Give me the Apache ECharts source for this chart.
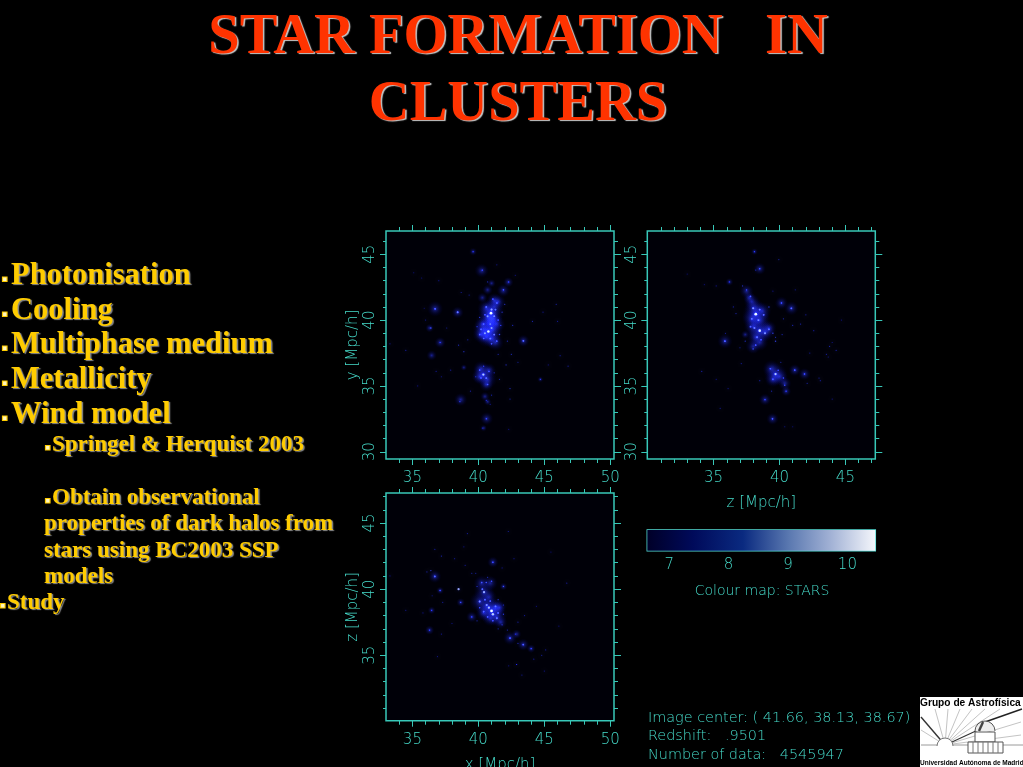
<!DOCTYPE html>
<html><head><meta charset="utf-8">
<style>html,body{margin:0;padding:0;background:#000}#c{width:1023px;height:767px}</style>
<script src="https://cdn.jsdelivr.net/npm/echarts@6/dist/echarts.min.js"></script>
</head><body><div id="c"></div>
<script>
// ---------- data: [horizontal, vertical, log10 mass] ----------
const xyDiffuse = [[40.96,40.53,9.3],[40.8,40.2,8.8],[41.2,41.0,8.6],[41.1,40.1,8.6],[40.6,40.9,8.4],[40.76,39.14,9.2],[40.4,39.3,8.8],[41.1,39.3,8.7],[40.6,38.7,8.6],[41.0,38.6,8.5],[41.3,38.3,8.3],[40.2,38.9,8.3],[41.4,39.7,8.3],[40.3,39.7,8.2],[41.5,41.4,8.1],[41.2,41.5,8.1],[40.9,39.8,8.6],[40.38,35.86,8.9],[40.7,35.5,8.5],[40.2,36.3,8.2],[40.8,36.2,8.0],[40.6,35.1,8.0],[40.1,35.7,8.1],[36.72,40.86,8.2],[38.43,40.58,7.8],[37.1,38.3,7.7],[36.46,37.32,7.6],[43.41,38.43,7.8],[38.66,33.96,7.9],[40.63,32.52,7.9],[40.25,43.76,8.0],[41.89,42.25,7.9],[42.27,42.88,7.6],[40.3,41.7,7.6],[40.7,42.3,7.6],[41.0,42.8,7.4],[36.3,39.4,7.4],[40.5,34.2,7.5],[40.7,33.8,7.3],[39.6,45.2,7.3],[40.4,31.8,7.2],[44.7,35.5,7.1],[38.9,36.4,7.2]];
const xyKnots = [[40.96,40.53,10.3],[40.76,39.14,10.0],[41.0,40.8,9.4],[40.7,40.3,9.2],[41.2,40.3,9.1],[41.3,40.8,9],[40.6,41,8.9],[41.4,41.3,8.9],[41.1,41.6,8.8],[40.5,40.4,8.8],[41.5,40.0,8.7],[40.9,39.7,9],[40.4,39.7,8.8],[40.2,39.3,8.9],[40.5,39.0,9.3],[41,39.4,9.3],[41.2,38.9,9.1],[40.9,38.6,9],[40.4,38.6,8.8],[40.1,38.9,8.7],[41.4,38.4,8.8],[41,38.2,8.8],[41.6,38.9,8.6],[41.7,39.6,8.4],[41.8,40.6,8.3],[42,41.2,8.3],[40.1,40.2,8.3],[39.9,39.5,8.2],[40.38,35.86,9.7],[40.6,35.6,9],[40.2,35.6,8.8],[40.1,36.2,8.7],[40.8,36.1,8.6],[40.7,35.1,8.6],[40.4,36.5,8.4],[41.2,36.0,8.2],[39.8,35.7,8.1],[41.6,35.5,7.9],[42.4,34.8,8.2],[41.0,34.3,7.9],[40.6,33.9,7.9],[40.9,33.6,7.7],[36.72,40.86,8.9],[36.4,39.4,8.6],[37.1,38.3,8.2],[38.43,40.6,9.1],[38.5,38.1,8.1],[38.9,37.6,8.2],[39.2,38.5,7.9],[43.41,38.43,9],[42.6,39.6,8],[42.2,38.4,8],[42.5,37.4,8.2],[43,36.8,7.9],[42.1,36.6,8.2],[41.5,37.4,8],[44.1,39.9,7.9],[44.9,40.6,7.6],[45.9,41.2,7.9],[46,39.9,7.6],[46.8,36.5,7.8],[46.2,37.3,7.6],[45.3,36.6,7.4],[44.7,35.5,7.7],[33.3,38.2,7.7],[34.5,37.7,7.7],[35.1,43.6,7.5],[35.7,43.2,7.5],[35.9,40.9,7.4],[37,43,7.5],[38.7,42.1,7.8],[39.3,41.9,7.7],[40.3,43.8,8.5],[40.7,42.9,8],[41.9,42.3,8.6],[42.3,42.9,8.3],[41.4,44.2,7.6],[42.8,43.4,7.5],[39.6,45.2,8],[40.6,32.5,8.5],[40.3,31.8,7.8],[42.3,31.7,7.4],[42.4,34.0,7.9],[38.6,33.8,8.3],[39.4,34.6,7.8],[37.9,36.2,7.7],[37.2,35.7,7.6],[36.8,36.1,7.6],[35.4,35,7.4],[36,40.0,7.6],[37.6,39.4,7.7]];
const zyDiffuse = [[38.2,40.45,9.4],[38.5,39.2,9.2],[38.1,40.9,8.6],[38.5,40.0,8.8],[37.9,40.1,8.6],[38.7,40.7,8.4],[38.0,39.5,8.5],[38.9,39.1,8.6],[38.2,38.7,8.5],[38.5,38.3,8.3],[38.0,38.0,8.1],[39.2,39.4,8.1],[37.9,41.4,8.2],[37.5,42.2,8.0],[37.7,41.7,7.8],[39.7,35.9,9.0],[39.4,36.3,8.4],[40,35.7,8.3],[39.5,35.5,8.2],[40.4,35.2,7.9],[40.5,34.6,7.6],[35.86,38.4,8.1],[40.9,40.9,8.0],[40.15,41.3,7.9],[41.9,35.9,7.8],[41.16,36.2,7.8],[38.9,33.96,7.8],[39.47,32.5,7.8],[38.5,43.9,7.8],[38.1,45.2,7.2],[37.4,38.9,7.4],[36.2,42.9,7.3]];
const zyKnots = [[38.2,40.45,10.3],[38.5,39.2,10.1],[38.0,40.9,9.3],[38.5,40.8,9.1],[38.8,40.4,9.1],[37.9,40.1,9],[38.4,40.0,9.2],[37.8,39.5,8.9],[38.1,39.4,9.1],[38.9,39.0,9.3],[39.2,39.3,9],[38.3,38.7,9],[38.6,38.5,8.8],[38.2,38.1,8.8],[38.0,37.8,8.5],[37.8,41.8,8.8],[37.5,42.3,8.5],[37.2,42.6,8.2],[39.2,41,8.4],[39.5,39,8.5],[39.7,38.7,8.2],[40.15,41.3,8.6],[40.9,40.9,8.9],[40.3,40.1,8],[41,39.6,7.9],[40.2,38.9,8.1],[39.7,38.4,8.5],[41.6,39.7,8],[42,40.4,7.8],[42.6,39.2,7.8],[39.7,35.9,9.7],[39.3,36.3,8.7],[39.9,36.2,8.6],[39.5,35.5,8.7],[40.3,35.6,8.6],[40.4,35.05,8.5],[40.5,34.6,8.2],[40.1,36.8,8.1],[41.16,36.2,8.7],[41.9,35.9,8.6],[42.1,35.2,7.9],[43,35.6,7.7],[38.9,33.96,8.4],[39.47,32.5,8.7],[39.4,34.6,7.9],[38.5,35.4,7.8],[38.5,43.9,8.5],[38.2,43.8,8.1],[38.1,45.2,8],[39.95,44.6,7.9],[37.4,38.4,8.2],[37,37.9,7.8],[35.86,38.4,8.9],[35.9,39,7.8],[36.7,40.5,8],[36.5,41,7.8],[36.2,42.9,7.8],[35.2,42.6,7.5],[34.3,42.7,7.4],[33,43.5,7.3],[34.1,36.1,7.8],[35.5,33.3,7.7],[35.2,35.5,7.5],[36.1,34.8,7.6],[37.1,36.7,7.8],[40.4,31.9,7.6],[41,31.9,7.4],[43.8,38,7.9],[44.3,37.7,7.8],[43.56,37.4,7.8],[44,38.3,7.6],[43.7,37.2,7.6],[44,34,7.6],[43.1,35.4,7.7],[42.3,37.5,7.7],[44.7,40,7.5],[41.2,42.3,7.6],[39.5,42.2,7.5]];
const xzDiffuse = [[41,38.35,9.3],[40.63,38.7,8.9],[40.1,39.06,8.7],[40.43,39.77,8.7],[41.4,37.9,8.6],[40.25,40.45,8.2],[40.9,40.45,8.1],[41.3,38.6,8.5],[40.4,38.2,8.2],[40.9,37.8,8.2],[41.6,38.6,8],[40.8,39.4,8.2],[41.7,37.5,7.9],[39.5,37.9,7.7],[42.4,36.3,8.0],[43.4,35.8,7.8],[44,35.5,7.4],[41.1,42.04,7.7],[36.7,40.96,7.9],[37.1,39.9,7.3],[38.66,39,7.4],[36.3,36.9,7.5],[36.46,38.4,7.3],[42.9,36.6,7.5],[41.9,40.2,7.3]];
const xzKnots = [[41,38.35,10.3],[41.1,38.1,9.8],[40.8,38.6,9.6],[40.63,38.8,9.3],[40.43,39.77,9.5],[40.1,39.06,9.2],[40.5,39.2,9],[40.9,39.1,8.9],[41.3,38.7,9],[41.5,38.2,9],[41.4,37.8,9.1],[41.1,37.6,8.8],[40.7,37.9,8.8],[40.4,38.3,8.8],[40.1,38.6,8.6],[40.3,40.0,9],[40.6,40.5,8.7],[40.25,40.5,8.6],[41,40.6,8.6],[40.7,40.9,8.2],[39.9,40.2,8.2],[41.5,39.2,8.3],[41.9,38.8,8.2],[41.9,38.1,8.3],[41.8,37.3,8.3],[39.5,37.9,8.4],[39.9,37.6,8.1],[41.5,37,8],[42.2,36.9,8],[42.4,36.3,8.9],[42.8,36.6,8.1],[43,35.9,8.2],[43.4,35.8,8.8],[44,35.5,8.3],[44.8,35,8],[45.1,35.4,7.7],[44.2,34.7,7.7],[45,33.8,7.6],[43.3,33.5,7.7],[42.9,34.3,7.8],[42.3,34.2,7.5],[43,37.5,7.8],[43.5,38,7.7],[44.4,38.7,7.4],[41.9,40.2,8.3],[41.1,42.04,8.6],[39.5,41.2,8],[39.8,41.2,7.9],[38.5,40.0,9.7],[38.66,39,8.4],[37.1,39.9,8.4],[36.7,40.96,8.9],[36.4,41.4,8.4],[36.1,41.3,7.8],[37.3,39,7.8],[36.46,38.4,8],[36.3,36.9,8.3],[37.2,36.6,7.7],[35.8,38.2,7.5],[37.2,42.5,8],[36.7,43,7.7],[38.2,42.3,7.6],[39,41.8,7.7],[38.9,43.2,7.5],[39.17,44.2,7.8],[42.27,44.36,7.8],[42.7,42.3,7.5],[41.8,41.6,7.5],[46.7,40.45,7.7],[45.5,42.8,7.4],[33.3,41,7.5],[34.5,38.4,7.6],[36.9,34.9,7.6],[42.9,34.3,7.7],[38,37.4,7.6],[36.5,39.5,7.6],[46.1,37.2,7.3]];

const xTicksXY = [34,35,36,37,38,39,40,41,42,43,44,45,46,47,48,49,50];
const xTicksZ  = [31,32,33,34,35,36,37,38,39,40,41,42,43,44,45,46,47];
const yTicksXY = [30,31,32,33,34,35,36,37,38,39,40,41,42,43,44,45,46];
const yTicksXZ = [31,32,33,34,35,36,37,38,39,40,41,42,43,44,45,46,47];
const scaleTicks = [7,8,9,10];
const scaleCaption = "Colour map: STARS";
const titleLines = ["STAR FORMATION   IN", "CLUSTERS"];
const bulletLines = ["Photonisation","Cooling","Multiphase medium","Metallicity","Wind model"];
const subLines = ["Springel & Herquist 2003","Obtain observational","properties of dark halos from","stars using BC2003 SSP","models","Study"];
const infoLines = ["Image center: ( 41.66, 38.13, 38.67)","Redshift:   .9501","Number of data:   4545947"];

// ---------- layout ----------
const teal = '#46dccb';
const frame = '#38c8b8';
const axisFont = {color:teal, fontFamily:'DejaVu Sans', fontSize:14, fontWeight:200};
const panels = [
 {left:386,top:231,xr:[33,50.28],yr:[29.45,46.77],xt:xTicksXY,yt:yTicksXY,d:xyDiffuse,k:xyKnots,yn:'y [Mpc/h]'},
 {left:647.3,top:231,xr:[29.97,47.27],yr:[29.45,46.77],xt:xTicksZ,yt:yTicksXY,d:zyDiffuse,k:zyKnots,xn:'z [Mpc/h]'},
 {left:386,top:493,xr:[33,50.28],yr:[30.05,47.27],xt:xTicksXY,yt:yTicksXZ,d:xzDiffuse,k:xzKnots,yn:'z [Mpc/h]',xn:'x [Mpc/h]'}
];
const grids=[],xAxes=[],yAxes=[],series=[];
function ax(g,pos,r,vals,len,labels,name,rot){
  const horizontal = pos==='top'||pos==='bottom';
  return {type:'value',gridIndex:g,position:pos,min:r[0],max:r[1],scale:true,
    axisLine:{show:false},splitLine:{show:false},minorTick:{show:false},
    axisTick:{show:true,inside:false,length:len,lineStyle:{color:frame,width:1},customValues:vals},
    axisLabel:labels?{show:true,customValues:labels,margin:horizontal?12:8,rotate:rot||0,formatter:v=>String(v),...axisFont,fontSize:15}:{show:false},
    name:name||'',nameLocation:'middle',nameGap:horizontal?36.5:25,nameRotate:horizontal?0:90,
    nameTextStyle:{...axisFont,fontSize:15}};
}
panels.forEach((p,i)=>{
  grids.push({left:p.left,top:p.top,width:228,height:i==2?227.7:228,show:true,outerBoundsMode:'none',backgroundColor:'#000008',borderColor:frame,borderWidth:1.5});
  const maj=p.xt.filter(v=>v%5===0), min=p.xt.filter(v=>v%5!==0);
  const ymaj=p.yt.filter(v=>v%5===0), ymin=p.yt.filter(v=>v%5!==0);
  xAxes.push(ax(i,'bottom',p.xr,maj,6,maj,p.xn), ax(i,'top',p.xr,maj,6), ax(i,'bottom',p.xr,min,4), ax(i,'top',p.xr,min,4));
  yAxes.push(ax(i,'left',p.yr,ymaj,6,ymaj,p.yn,90), ax(i,'right',p.yr,ymaj,7), ax(i,'left',p.yr,ymin,3), ax(i,'right',p.yr,ymin,4));
  const xi=xAxes.length-4, yi=yAxes.length-4;
  series.push({type:'scatter',xAxisIndex:xi,yAxisIndex:yi,data:p.d,silent:true,blendMode:'lighter',
    symbolSize:v=>(v[2]-6.5)*9.5,
    itemStyle:{opacity:1,color:{type:'radial',x:.5,y:.5,r:.5,colorStops:[{offset:0,color:'rgba(40,52,225,.62)'},{offset:.45,color:'rgba(24,32,165,.28)'},{offset:1,color:'rgba(0,0,90,0)'}]}}});
  series.push({type:'scatter',xAxisIndex:xi,yAxisIndex:yi,data:p.k,silent:true,blendMode:'lighter',
    symbolSize:v=>Math.max(1.2,(v[2]-6.6)*0.75),itemStyle:{opacity:.85,shadowBlur:3,shadowColor:'rgba(40,60,255,.45)'}});
});
// colour scale
grids.push({left:647.3,top:530,width:228,height:20.7,show:true,outerBoundsMode:'none',backgroundColor:'#000',borderColor:'#55e0d8',borderWidth:1.5});
xAxes.push({type:'value',gridIndex:3,position:'bottom',min:6.63,max:10.47,scale:true,axisLine:{show:false},axisTick:{show:false},splitLine:{show:false},
  axisLabel:{customValues:scaleTicks,margin:7,formatter:v=>String(v),...axisFont,fontSize:15}});
yAxes.push({type:'category',gridIndex:3,data:['STARS'],show:false});
series.push({type:'bar',xAxisIndex:12,yAxisIndex:12,data:[10.47],barWidth:'100%',silent:true,z:0,
  itemStyle:{color:{type:'linear',x:0,y:0,x2:1,y2:0,colorStops:[{offset:0,color:'#000028'},{offset:.2,color:'#000a5a'},{offset:.42,color:'#0a2a80'},{offset:.62,color:'#5a78b0'},{offset:.8,color:'#a0b0d4'},{offset:1,color:'#f4f6fb'}]}}});

// page furniture
const g=[];
const T=(o,e)=>g.push({type:'text',silent:true,style:o,...(e||{})});
const serif='"Liberation Serif","Times New Roman",serif';
[38,105].forEach((y,i)=>T({text:titleLines[i],x:518,y:y,align:'center',verticalAlign:'middle',font:'bold 56.5px '+serif,fill:'#ff3300',
  textShadowColor:'#c8c8c8',textShadowOffsetX:1.5,textShadowOffsetY:1.5,textShadowBlur:1}));
const gold={fill:'#ffcc00',textShadowColor:'#8a8a8a',textShadowOffsetX:1.5,textShadowOffsetY:1.5,textShadowBlur:1,verticalAlign:'middle'};
const bullet=(x,y)=>g.push({type:'rect',silent:true,shape:{x:x,y:y,width:4.5,height:4.5},style:{fill:'#fff6c0',stroke:'#ffcc00',lineWidth:1.2}});
[276,311,345,380,415].forEach((y,i)=>{T({text:bulletLines[i],x:11,y:y,font:'bold 30.5px '+serif,...gold});bullet(2.5,y+1);});
[[52,445,1],[52,498,1],[44,524,0],[44,551,0],[44,577,0],[7,603,1]].forEach((a,i)=>{
  T({text:subLines[i],x:a[0],y:a[1],font:'bold 23px '+serif,...gold}); if(a[2]) bullet(a[0]-6.5,a[1]+0.5);});
T({text:scaleCaption,x:762,y:591,align:'center',verticalAlign:'middle',font:'200 14px "DejaVu Sans"',fill:teal});
[718,736,755].forEach((y,i)=>T({text:infoLines[i],x:648,y:y,verticalAlign:'middle',font:'200 14.4px "DejaVu Sans"',fill:teal}));
// logo
const L=(x1,y1,x2,y2,c,w)=>g.push({type:'line',silent:true,shape:{x1,y1,x2,y2},style:{stroke:c,lineWidth:w}});
g.push({type:'rect',silent:true,shape:{x:920,y:697,width:103,height:70},style:{fill:'#fff'}});
[[935,709],[948,709],[960,709],[972,709],[985,709],[1000,709],[1021,722],[921,730],[1021,735]].forEach(p=>L(945,745,p[0],p[1],'#c4c4c4',1));
L(921,745,1023,745,'#9a9a9a',1); L(921,717,945,745,'#333',1.4); L(952,742,978,730,'#333',1.2); L(985,722,1022,709,'#222',1.4);
g.push({type:'arc',silent:true,shape:{cx:945,cy:746,r:8,startAngle:Math.PI,endAngle:2*Math.PI},style:{stroke:'#777',fill:'#fff',lineWidth:1}});
g.push({type:'arc',silent:true,shape:{cx:985,cy:731,r:10,startAngle:Math.PI,endAngle:2*Math.PI},style:{stroke:'#555',fill:'#eee',lineWidth:1}});
L(983,722,979,731,'#444',2.4);
g.push({type:'rect',silent:true,shape:{x:975,y:732,width:20,height:10},style:{stroke:'#555',fill:'#fff',lineWidth:1}});
g.push({type:'rect',silent:true,shape:{x:968,y:742,width:35,height:11},style:{stroke:'#555',fill:'#fff',lineWidth:1}});
[973,978,983,988,993,998].forEach(x=>L(x,742,x,753,'#777',1));
T({text:'Grupo de Astrofísica',x:920,y:703,verticalAlign:'middle',font:'bold 10.2px "Liberation Sans"',fill:'#000'});
T({text:'Universidad Autónoma de Madrid',x:920,y:763,verticalAlign:'middle',font:'bold 6.5px "Liberation Sans"',fill:'#000'});

const chart=echarts.init(document.getElementById('c'),null,{width:1023,height:767,renderer:'canvas'});
chart.setOption({backgroundColor:'#000',animation:false,grid:grids,xAxis:xAxes,yAxis:yAxes,series:series,graphic:{elements:g},
  visualMap:{show:false,type:'continuous',min:6.63,max:10.47,dimension:2,seriesIndex:[1,3,5],
    inRange:{color:['#000020','#0c0c78','#2230cc','#4c5cf8','#aab8ff','#ffffff']}}});
</script></body></html>
